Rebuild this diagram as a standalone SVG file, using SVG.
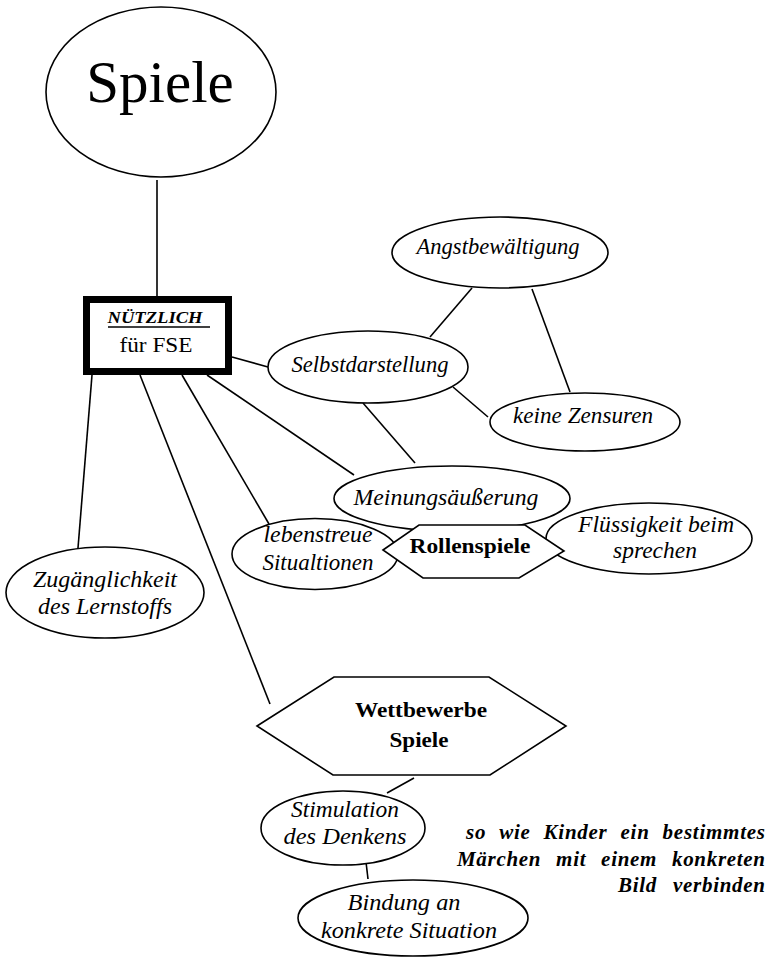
<svg xmlns="http://www.w3.org/2000/svg" width="770" height="957" viewBox="0 0 770 957">
<style>
.n{fill:#fff;stroke:#000;stroke-width:1.6}
.c line{stroke:#000;stroke-width:1.6}
.t{font-family:"Liberation Serif","Times New Roman",serif;fill:#000;text-anchor:middle}
.i{font-style:italic;font-size:23px}
.b{font-weight:bold}
.bi{font-weight:bold;font-style:italic}
.r{text-anchor:end;font-size:21px}
</style>
<rect width="770" height="957" fill="#fff"/>
<g id="connectors" class="c">
<line x1="157" y1="180" x2="157" y2="296"/>
<line x1="232" y1="357" x2="268" y2="367"/>
<line x1="472" y1="288" x2="430" y2="337"/>
<line x1="532" y1="289" x2="570" y2="392"/>
<line x1="453" y1="387" x2="488" y2="417"/>
<line x1="363" y1="403" x2="415" y2="463"/>
<line x1="92" y1="375" x2="78" y2="548"/>
<line x1="140" y1="375" x2="270" y2="704"/>
<line x1="182" y1="375" x2="269" y2="524"/>
<line x1="207" y1="375" x2="354" y2="475"/>
<line x1="414" y1="778" x2="387" y2="793"/>
<line x1="366" y1="862" x2="368" y2="879"/>
</g>
<g id="spiele">
<ellipse class="n" cx="161" cy="92" rx="115" ry="85"/>
<text class="t" x="160" y="102" font-size="59">Spiele</text>
</g>
<g id="nuetzlich">
<rect x="86.5" y="299.5" width="142" height="72" fill="#fff" stroke="#000" stroke-width="7"/>
<text class="t bi" x="155" y="323" font-size="16" textLength="95" lengthAdjust="spacingAndGlyphs">NÜTZLICH</text>
<line x1="108" y1="327" x2="210" y2="327" stroke="#000" stroke-width="1.3"/>
<text class="t" x="156" y="352" font-size="22" textLength="73" lengthAdjust="spacingAndGlyphs">für FSE</text>
</g>
<g id="angst">
<ellipse class="n" cx="500" cy="252.5" rx="108" ry="35.5"/>
<text class="t i" x="498" y="254" textLength="163" lengthAdjust="spacingAndGlyphs">Angstbewältigung</text>
</g>
<g id="selbst">
<ellipse class="n" cx="368" cy="367" rx="100" ry="36"/>
<text class="t i" x="370" y="372" font-size="24" textLength="157" lengthAdjust="spacingAndGlyphs">Selbstdarstellung</text>
</g>
<g id="zensuren">
<ellipse class="n" cx="585" cy="422" rx="95" ry="29"/>
<text class="t i" x="583" y="423" font-size="21" textLength="140" lengthAdjust="spacingAndGlyphs">keine  Zensuren</text>
</g>
<g id="meinung">
<ellipse class="n" cx="452" cy="498.5" rx="118" ry="32.5"/>
<text class="t i" x="446" y="505" textLength="185" lengthAdjust="spacingAndGlyphs">Meinungsäußerung</text>
</g>
<g id="lebenstreue">
<ellipse class="n" cx="315" cy="554" rx="83" ry="35.5"/>
<text class="t i" x="318" y="542" font-size="22" textLength="109" lengthAdjust="spacingAndGlyphs">lebenstreue</text>
<text class="t i" x="318" y="570" font-size="22" textLength="111" lengthAdjust="spacingAndGlyphs">Situaltionen</text>
</g>
<g id="fluessigkeit">
<ellipse class="n" cx="649" cy="538.5" rx="103" ry="35.5"/>
<text class="t i" x="656" y="532" font-size="22" textLength="156" lengthAdjust="spacingAndGlyphs">Flüssigkeit beim</text>
<text class="t i" x="655" y="558" font-size="22" textLength="84" lengthAdjust="spacingAndGlyphs">sprechen</text>
</g>
<g id="rollenspiele">
<polygon class="n" points="383,550 419,525 525,525 564,551 519,578 423,578"/>
<text class="t b" x="470" y="553" font-size="21" textLength="121" lengthAdjust="spacingAndGlyphs">Rollenspiele</text>
</g>
<g id="zugaenglichkeit">
<ellipse class="n" cx="105" cy="592.5" rx="99" ry="45.5"/>
<text class="t i" x="105" y="587" textLength="144" lengthAdjust="spacingAndGlyphs">Zugänglichkeit</text>
<text class="t i" x="105" y="614" textLength="134" lengthAdjust="spacingAndGlyphs">des Lernstoffs</text>
</g>
<g id="wettbewerbe">
<polygon class="n" points="257,726 334,677 489,677 566,726 490,775 333,775"/>
<text class="t b" x="421" y="717" font-size="20" textLength="132" lengthAdjust="spacingAndGlyphs">Wettbewerbe</text>
<text class="t b" x="419" y="747" font-size="20" textLength="59" lengthAdjust="spacingAndGlyphs">Spiele</text>
</g>
<g id="stimulation">
<ellipse class="n" cx="343" cy="828" rx="82" ry="37"/>
<text class="t i" x="345" y="817" font-size="22" textLength="108" lengthAdjust="spacingAndGlyphs">Stimulation</text>
<text class="t i" x="345" y="844" font-size="22" textLength="123" lengthAdjust="spacingAndGlyphs">des  Denkens</text>
</g>
<g id="bindung">
<ellipse class="n" cx="413" cy="918" rx="115" ry="38"/>
<text class="t i" x="404" y="910" font-size="22" textLength="113" lengthAdjust="spacingAndGlyphs">Bindung  an</text>
<text class="t i" x="409" y="938" font-size="22" textLength="176" lengthAdjust="spacingAndGlyphs">konkrete  Situation</text>
</g>
<g id="note">
<text class="t bi r" x="765" y="839" word-spacing="7" textLength="299" lengthAdjust="spacing">so wie Kinder ein bestimmtes</text>
<text class="t bi r" x="765" y="866" word-spacing="9" textLength="308" lengthAdjust="spacing">Märchen mit einem konkreten</text>
<text class="t bi r" x="765" y="892" word-spacing="10" textLength="147" lengthAdjust="spacing">Bild verbinden</text>
</g>
</svg>
